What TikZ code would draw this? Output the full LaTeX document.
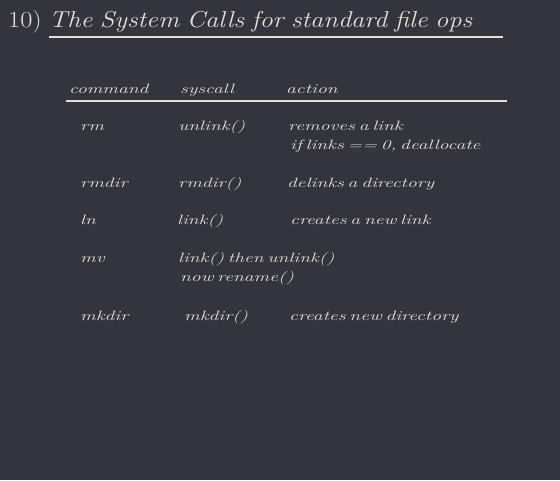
\documentclass[tikz,border=0pt]{standalone}
\usepackage{fontspec}
\newfontfamily\titlefont[FakeStretch=1.15,WordSpace=0.8]{Latin Modern Roman}
\newfontfamily\handfont[FakeStretch=1.45,WordSpace=0.55]{Latin Modern Roman}
\definecolor{bg}{HTML}{34343E}
\definecolor{chalk}{HTML}{E2DED8}
\begin{document}
\begin{tikzpicture}[x=1pt,y=-1pt,
  txt/.style={anchor=base west,inner sep=0pt,text=chalk,font=\handfont\itshape\fontsize{13.5}{16}\selectfont},
  ttl/.style={anchor=base west,inner sep=0pt,text=chalk,font=\titlefont\fontsize{23}{26}\selectfont},
  rule/.style={draw=chalk,line width=2pt}]
\fill[bg] (0,0) rectangle (560,480);
\useasboundingbox (0,0) rectangle (560,480);
\node[ttl] (title) at (8,27) {10)\hspace{7pt}\itshape The System Calls for standard file ops};
\coordinate (t1) at (49,37); \coordinate (t2) at (503,37);
\draw[rule,line width=2.5pt] (t1) -- (t2);
\node[txt] (hc) at (69,93) {command};
\node[txt] (hs) at (180,93) {syscall};
\node[txt] (ha) at (286,93) {action};
\coordinate (h1) at (66,101); \coordinate (h2) at (507,101);
\draw[rule] (h1) -- (h2);
\node[txt] (c1) at (80,130) {rm};
\node[txt] (s1) at (178,130) {unlink()};
\node[txt] (a1) at (288,130) {removes a link};
\node[txt] (a1b) at (290,149) {if links == 0, deallocate};
\node[txt] (c2) at (80,187) {rmdir};
\node[txt] (s2) at (178,187) {rmdir()};
\node[txt] (a2) at (287,187) {delinks a directory};
\node[txt] (c3) at (80,224) {ln};
\node[txt] (s3) at (177,224) {link()};
\node[txt] (a3) at (290,224) {creates a new link};
\node[txt] (c4) at (80,262) {mv};
\node[txt] (s4) at (178,262) {link() then unlink()};
\node[txt] (s4b) at (180,281) {now rename()};
\node[txt] (c5) at (80,320) {mkdir};
\node[txt] (s5) at (184,320) {mkdir()};
\node[txt] (a5) at (289,320) {creates new directory};
\end{tikzpicture}
\end{document}
